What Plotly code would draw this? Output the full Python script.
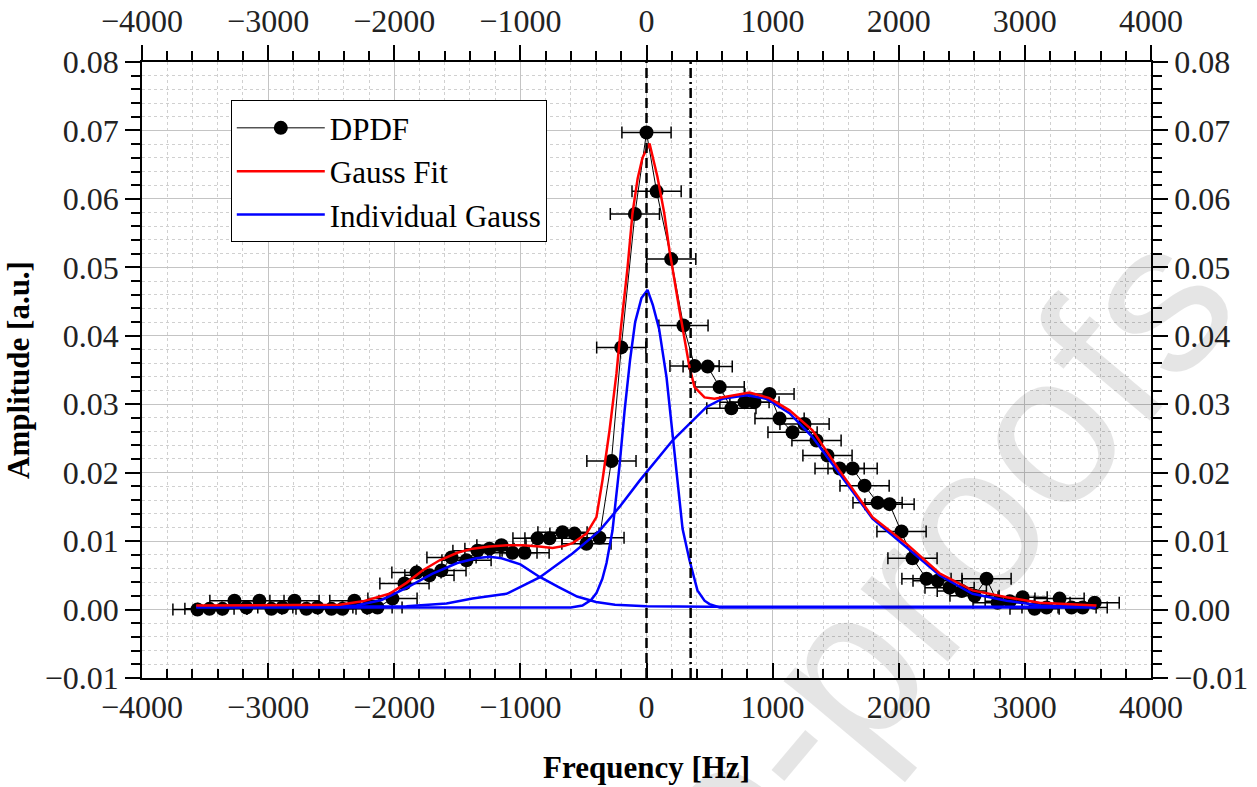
import plotly.graph_objects as go

# ---------------- data ----------------
freq = [-3560, -3465, -3362, -3267, -3172, -3069, -2974, -2887, -2791, -2697,
        -2609, -2498, -2411, -2316, -2212, -2133, -2014, -1919, -1824, -1721,
        -1626, -1546, -1427, -1340, -1245, -1150, -1063, -967, -864, -769,
        -666, -571, -476, -373, -278, -200, -92, 0, 80, 196,
        293, 381, 485, 580, 673, 777, 856, 975, 1055, 1158,
        1253, 1348, 1435, 1531, 1634, 1729, 1832, 1927, 2022, 2109,
        2220, 2308, 2403, 2500, 2601, 2696, 2784, 2880, 2982, 3077,
        3172, 3275, 3370, 3458, 3553]
amp = [0.0000, 0.0001, 0.0001, 0.0013, 0.0003, 0.0013, 0.0001, 0.0003, 0.0013, 0.0001,
       0.0003, 0.0001, 0.0001, 0.0013, 0.0003, 0.0003, 0.0016, 0.0038, 0.0054, 0.0050,
       0.0057, 0.0076, 0.0072, 0.0086, 0.0089, 0.0094, 0.0083, 0.0083, 0.0104, 0.0104,
       0.0113, 0.0111, 0.0096, 0.0105, 0.0217, 0.0383, 0.0578, 0.0697, 0.0611, 0.0512,
       0.0415, 0.0356, 0.0355, 0.0325, 0.0294, 0.0303, 0.0303, 0.0315, 0.0279, 0.0259,
       0.0271, 0.0247, 0.0225, 0.0206, 0.0206, 0.0181, 0.0156, 0.0154, 0.0114, 0.0075,
       0.0045, 0.0042, 0.0032, 0.0027, 0.0020, 0.0045, 0.0010, 0.0012, 0.0018, 0.0001,
       0.0003, 0.0016, 0.0003, 0.0003, 0.0010]
freq_err = 195

fit_x = [-3570, -2600, -2435, -2250, -2038, -1903, -1776, -1640, -1500, -1380,
         -1245, -1100, -983, -850, -745, -650, -587, -476, -397, -349,
         -293, -238, -205, -150, -111, -70, -32, 24, 87, 140,
         182, 262, 341, 381, 460, 539, 650, 817, 975, 1134,
         1316, 1531, 1792, 2062, 2323, 2585, 2855, 3116, 3568]
fit_y = [0.0006, 0.0006, 0.0007, 0.0012, 0.0023, 0.0039, 0.0057, 0.0072, 0.0083, 0.0089,
         0.0092, 0.0094, 0.0094, 0.0092, 0.0090, 0.0093, 0.0097, 0.0111, 0.0135, 0.0189,
         0.0262, 0.0345, 0.0408, 0.0500, 0.0579, 0.0630, 0.0660, 0.0681, 0.0632, 0.0580,
         0.0525, 0.0437, 0.0354, 0.0325, 0.0310, 0.0308, 0.0312, 0.0317, 0.0309, 0.0291,
         0.0262, 0.0203, 0.0135, 0.0096, 0.0053, 0.0028, 0.0018, 0.0010, 0.0006]

g_left_x = [-3570, -2600, -2300, -2100, -1900, -1700, -1500, -1350, -1245, -1150,
            -1000, -850, -700, -550, -400, -250, 0, 500, 3560]
g_left_y = [0.0004, 0.0004, 0.0006, 0.0014, 0.0032, 0.0052, 0.0068, 0.0075, 0.0077, 0.0075,
            0.0066, 0.0048, 0.0033, 0.0019, 0.0011, 0.0007, 0.0005, 0.0004, 0.0004]

g_mid_x = [-3570, -600, -508, -440, -397, -350, -317, -270, -214, -174,
           -130, -90, -40, 8, 50, 100, 159, 206, 250, 286,
           341, 404, 460, 500, 580, 3560]
g_mid_y = [0.0003, 0.0003, 0.0006, 0.0014, 0.0024, 0.0045, 0.0068, 0.0115, 0.0210, 0.0290,
           0.0365, 0.0420, 0.0455, 0.0467, 0.0445, 0.0410, 0.0339, 0.0258, 0.0180, 0.0118,
           0.0072, 0.0028, 0.0013, 0.0008, 0.0003, 0.0003]

g_right_x = [-3570, -1903, -1586, -1380, -1110, -848, -587, -373, -214, -56,
             206, 341, 476, 603, 793, 951, 1134, 1316, 1531, 1792,
             2062, 2323, 2585, 2855, 3116, 3489, 3560]
g_right_y = [0.0004, 0.0005, 0.0009, 0.0016, 0.0023, 0.0047, 0.0082, 0.0115, 0.0150, 0.0188,
             0.0247, 0.0272, 0.0296, 0.0308, 0.0313, 0.0308, 0.0287, 0.0252, 0.0199, 0.0133,
             0.0091, 0.0050, 0.0023, 0.0013, 0.0006, 0.0004, 0.0004]

center_line = 0
dashdot_line = 350

x_range = [-4000, 4000]
y_range = [-0.01, 0.08]

# ---------------- figure ----------------
serif = "Liberation Serif, Times New Roman, serif"
fig = go.Figure()

# watermark (light grey, partly outside the page like the reference)
fig.add_annotation(
    text="Journal Pre-proofs", xref="paper", yref="paper",
    x=0.474, y=-0.42, xanchor="center", yanchor="middle",
    showarrow=False, textangle=-50,
    font=dict(family="Liberation Sans, Arial, sans-serif", size=215, color="rgba(0,0,0,0.10)"),
)

fig.add_trace(go.Scatter(
    x=freq, y=amp, mode="lines+markers", name="DPDF", legendrank=1,
    line=dict(color="black", width=1),
    marker=dict(color="black", size=14),
    error_x=dict(type="constant", value=freq_err, color="black", thickness=1.5, width=6),
))

for i, (gx, gy) in enumerate([(g_left_x, g_left_y), (g_mid_x, g_mid_y), (g_right_x, g_right_y)]):
    fig.add_trace(go.Scatter(
        x=gx, y=gy, mode="lines", name="Individual Gauss", legendrank=3,
        legendgroup="ind", showlegend=(i == 0),
        line=dict(color="#0000ff", width=2.5),
    ))

fig.add_trace(go.Scatter(
    x=fit_x, y=fit_y, mode="lines", name="Gauss Fit", legendrank=2,
    line=dict(color="#ff0000", width=2.5),
))

# invisible trace so the mirrored top/right axes are drawn
fig.add_trace(go.Scatter(
    x=freq, y=amp, xaxis="x2", yaxis="y2", mode="markers",
    marker=dict(opacity=0), hoverinfo="skip", showlegend=False,
))

fig.add_vline(x=center_line, line=dict(color="black", width=2.5, dash="10px,5px"))
fig.add_vline(x=dashdot_line, line=dict(color="black", width=2.5, dash="10px,4px,2px,4px"))

axis_common = dict(
    showline=True, linecolor="black", linewidth=1.5,
    ticklen=15, tickwidth=1.5, tickcolor="black",
    tickfont=dict(family=serif, size=32, color="#222222"),
    zeroline=False, automargin=False,
)

fig.update_layout(
    width=1257, height=787,
    margin=dict(l=142, r=106, t=62, b=109),
    paper_bgcolor="white", plot_bgcolor="white",
    showlegend=True,
    legend=dict(
        x=0.088, y=0.938, xanchor="left", yanchor="top",
        bordercolor="black", borderwidth=1, bgcolor="white",
        font=dict(family=serif, size=31, color="black"),
        itemwidth=88, tracegroupgap=0,
    ),
    xaxis=dict(
        range=x_range, dtick=1000, tick0=0, ticks="inside",
        showgrid=True, gridcolor="#c4c4c4", gridwidth=1,
        minor=dict(dtick=200, ticks="inside", ticklen=9, tickwidth=1.5, tickcolor="black",
                   showgrid=True, gridcolor="#d0d0d0", griddash="dot", gridwidth=1),
        title=dict(text="<b>Frequency [Hz]</b>", font=dict(family=serif, size=31, color="black"),
                   standoff=32),
        **axis_common,
    ),
    yaxis=dict(
        range=y_range, dtick=0.01, tick0=0, tickformat=".2f", ticks="outside",
        showgrid=True, gridcolor="#c4c4c4", gridwidth=1,
        minor=dict(dtick=0.002, ticks="outside", ticklen=9, tickwidth=1.5, tickcolor="black",
                   showgrid=True, gridcolor="#d0d0d0", griddash="dot", gridwidth=1),
        title=dict(text="<b>Amplitude [a.u.]</b>", font=dict(family=serif, size=31, color="black"),
                   standoff=6),
        **axis_common,
    ),
    xaxis2=dict(
        overlaying="x", side="top", anchor="y", range=x_range, dtick=1000, tick0=0,
        ticks="outside", showgrid=False,
        minor=dict(dtick=200, ticks="outside", ticklen=9, tickwidth=1.5, tickcolor="black"),
        **axis_common,
    ),
    yaxis2=dict(
        overlaying="y", side="right", anchor="x", range=y_range, dtick=0.01, tick0=0,
        tickformat=".2f", ticks="outside", showgrid=False,
        minor=dict(dtick=0.002, ticks="outside", ticklen=9, tickwidth=1.5, tickcolor="black"),
        **axis_common,
    ),
)

fig.write_html("out.html")
